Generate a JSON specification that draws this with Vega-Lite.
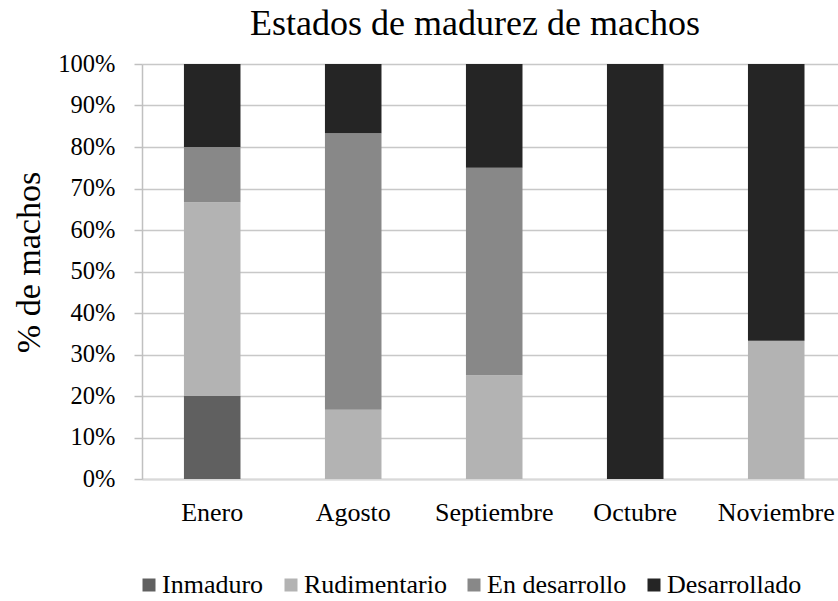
{
  "$schema": "https://vega.github.io/schema/vega-lite/v6.json",
  "autosize": "none",
  "padding": {"left": 142, "top": 64, "right": 0, "bottom": 122},
  "width": 696,
  "height": 415,
  "background": "white",
  "title": {
    "text": "Estados de madurez de machos",
    "font": "Liberation Serif",
    "fontSize": 36,
    "fontWeight": "normal",
    "color": "#000000",
    "anchor": "middle",
    "frame": "group",
    "dx": -15,
    "baseline": "alphabetic",
    "offset": 20,
    "dy": 40
  },
  "data": {
    "values": [
      {"mes": "Enero", "estado": "Inmaduro", "orden": 1, "valor": 0.2},
      {"mes": "Enero", "estado": "Rudimentario", "orden": 2, "valor": 0.467},
      {"mes": "Enero", "estado": "En desarrollo", "orden": 3, "valor": 0.133},
      {"mes": "Enero", "estado": "Desarrollado", "orden": 4, "valor": 0.2},
      {"mes": "Agosto", "estado": "Rudimentario", "orden": 2, "valor": 0.167},
      {"mes": "Agosto", "estado": "En desarrollo", "orden": 3, "valor": 0.666},
      {"mes": "Agosto", "estado": "Desarrollado", "orden": 4, "valor": 0.167},
      {"mes": "Septiembre", "estado": "Rudimentario", "orden": 2, "valor": 0.25},
      {"mes": "Septiembre", "estado": "En desarrollo", "orden": 3, "valor": 0.5},
      {"mes": "Septiembre", "estado": "Desarrollado", "orden": 4, "valor": 0.25},
      {"mes": "Octubre", "estado": "Desarrollado", "orden": 4, "valor": 1.0},
      {"mes": "Noviembre", "estado": "Rudimentario", "orden": 2, "valor": 0.333},
      {"mes": "Noviembre", "estado": "Desarrollado", "orden": 4, "valor": 0.667}
    ]
  },
  "mark": {"type": "bar"},
  "encoding": {
    "x": {
      "field": "mes",
      "type": "nominal",
      "sort": ["Enero", "Agosto", "Septiembre", "Octubre", "Noviembre"],
      "scale": {"paddingInner": 0.599, "paddingOuter": 0.2675, "align": 0.556},
      "axis": {
        "title": null,
        "labelAngle": 0,
        "labelFont": "Liberation Serif",
        "labelFontSize": 26,
        "labelColor": "#000000",
        "labelBaseline": "alphabetic",
        "labelPadding": 41,
        "ticks": false,
        "tickSize": 0,
        "domainColor": "#d9d9d9",
        "domainWidth": 2,
        "grid": false
      }
    },
    "y": {
      "field": "valor",
      "type": "quantitative",
      "stack": "normalize",
      "scale": {"domain": [0, 1]},
      "axis": {
        "title": "% de machos",
        "titleFont": "Liberation Serif",
        "titleFontSize": 34,
        "titleFontWeight": "normal",
        "titleColor": "#000000",
        "titleAngle": -90,
        "titleBaseline": "alphabetic",
        "titleAlign": "center",
        "titleX": -103,
        "titleY": 198,
        "values": [0, 0.1, 0.2, 0.3, 0.4, 0.5, 0.6, 0.7, 0.8, 0.9, 1.0],
        "format": ".0%",
        "labelFont": "Liberation Serif",
        "labelFontSize": 24.5,
        "labelColor": "#000000",
        "labelPadding": 19,
        "tickSize": 8,
        "tickColor": "#c0c0c0",
        "tickWidth": 1.5,
        "domainColor": "#c0c0c0",
        "domainWidth": 1.5,
        "grid": true,
        "gridColor": "#c8c8c8",
        "gridWidth": 1.5
      }
    },
    "color": {
      "field": "estado",
      "type": "nominal",
      "sort": ["Inmaduro", "Rudimentario", "En desarrollo", "Desarrollado"],
      "scale": {
        "domain": ["Inmaduro", "Rudimentario", "En desarrollo", "Desarrollado"],
        "range": ["#606060", "#b3b3b3", "#888888", "#252525"]
      },
      "legend": {
        "title": null,
        "orient": "none",
        "direction": "horizontal",
        "legendX": -6,
        "legendY": 508,
        "padding": 0,
        "symbolType": "square",
        "symbolSize": 169,
        "symbolStrokeWidth": 0,
        "symbolOpacity": 1,
        "labelFont": "Liberation Serif",
        "labelFontSize": 26,
        "labelColor": "#000000",
        "labelOffset": 0,
        "columnPadding": 14,
        "labelLimit": 400
      }
    },
    "order": {"field": "orden", "type": "quantitative", "sort": "ascending"}
  },
  "config": {
    "font": "Liberation Serif",
    "view": {"stroke": null}
  }
}
